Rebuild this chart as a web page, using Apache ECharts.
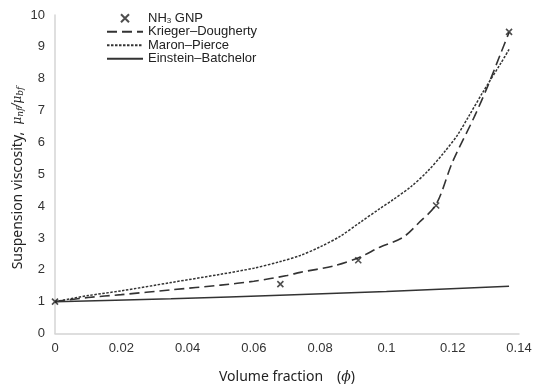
<!DOCTYPE html>
<html>
<head>
<meta charset="utf-8">
<script src="https://cdn.jsdelivr.net/npm/echarts@6/dist/echarts.min.js"></script>
<style>
  html, body { margin: 0; padding: 0; background: #fff; }
  #chart { width: 543px; height: 386px; }
</style>
</head>
<body>
<div id="chart"></div>
<script>
// Measured relative viscosity of NH3 GNP nanofluid
const gnpPhi = [0, 0.068, 0.0915, 0.115, 0.137];
const gnpVisc = [1, 1.55, 2.3, 4.02, 9.47];

// Krieger–Dougherty model curve
const kdPhi = [0, 0.01, 0.02, 0.035, 0.05, 0.06, 0.07, 0.074, 0.084, 0.0916, 0.098, 0.105, 0.110, 0.115, 0.120, 0.1265, 0.1305, 0.1345, 0.137];
const kdVisc = [1, 1.13, 1.22, 1.37, 1.52, 1.64, 1.82, 1.92, 2.12, 2.38, 2.71, 3.02, 3.5, 4.05, 5.4, 6.8, 7.75, 8.8, 9.45];

// Maron–Pierce model curve
const mpPhi = [0, 0.01, 0.02, 0.035, 0.05, 0.06, 0.068, 0.074, 0.08, 0.086, 0.0922, 0.098, 0.102, 0.1075, 0.1125, 0.1175, 0.1215, 0.125, 0.129, 0.1346, 0.137];
const mpVisc = [1, 1.19, 1.34, 1.6, 1.86, 2.05, 2.26, 2.45, 2.72, 3.05, 3.5, 3.92, 4.2, 4.62, 5.1, 5.7, 6.24, 6.85, 7.56, 8.5, 8.92];

// Einstein–Batchelor model curve
const ebPhi = [0, 0.035, 0.07, 0.1, 0.137];
const ebVisc = [1, 1.09, 1.21, 1.32, 1.48];

// Axis tick values
const xTicks = [0, 0.02, 0.04, 0.06, 0.08, 0.1, 0.12, 0.14];
const yTicks = [0, 1, 2, 3, 4, 5, 6, 7, 8, 9, 10];

const names = ['NH3 GNP', 'Krieger–Dougherty', 'Maron–Pierce', 'Einstein–Batchelor'];

const pair = (xs, ys) => xs.map((x, i) => [x, ys[i]]);

const crossPath = 'path://M0,0 L10,10 M10,0 L0,10';

const chart = echarts.init(document.getElementById('chart'));
const ink = '#333333';
const sans = 'Liberation Sans, Arial, sans-serif';
const uiSans = 'Noto Sans, Open Sans, sans-serif';

// line entries in the legend show only the line sample, no marker
const legendData = names.map((n, i) => i === 0 ? { name: n } : { name: n, itemStyle: { opacity: 0 } });

chart.setOption({
  animation: false,
  backgroundColor: '#ffffff',
  grid: { left: 55, right: 24, top: 15, bottom: 52.5, outerBoundsMode: 'none' },
  legend: {
    orient: 'vertical',
    left: 101,
    top: 5,
    padding: 5,
    itemWidth: 36,
    itemHeight: 8,
    itemGap: 0,
    data: legendData,
    textStyle: {
      fontFamily: sans,
      fontSize: 13,
      lineHeight: 13.5,
      color: '#222',
      rich: {
        sub: { fontSize: 8, lineHeight: 13.5, verticalAlign: 'bottom', padding: [7, 0, 0, 0], fontFamily: sans, color: '#222' }
      }
    },
    formatter: n => n === 'NH3 GNP' ? 'NH{sub|3} GNP' : n
  },
  xAxis: {
    type: 'value',
    min: xTicks[0],
    max: xTicks[xTicks.length - 1],
    interval: 0.02,
    name: 'Volume fraction\u2003({p|\u03d5})',
    nameLocation: 'middle',
    nameGap: 37,
    nameTextStyle: {
      fontFamily: uiSans, fontSize: 14, color: '#222',
      rich: { p: { fontFamily: 'DejaVu Serif, serif', fontStyle: 'italic', fontSize: 14, color: '#222' } }
    },
    axisLine: { lineStyle: { color: '#d4d4d4', width: 1.5 } },
    axisTick: { show: false },
    splitLine: { show: false },
    axisLabel: {
      margin: 8,
      fontFamily: sans,
      fontSize: 13,
      color: '#333',
      formatter: v => String(Math.round(v * 100) / 100)
    }
  },
  yAxis: {
    type: 'value',
    min: yTicks[0],
    max: yTicks[yTicks.length - 1],
    interval: 1,
    axisLine: { show: true, lineStyle: { color: '#d4d4d4', width: 1.5 } },
    axisTick: { show: false },
    splitLine: { show: false },
    axisLabel: {
      margin: 10,
      fontFamily: sans,
      fontSize: 13,
      color: '#333'
    }
  },
  graphic: [{
    type: 'text',
    x: 18,
    y: 178,
    rotation: Math.PI / 2,
    style: {
      text: 'Suspension viscosity,  {m|μ}{s|nf}{m|/μ}{s|bf}',
      align: 'center',
      verticalAlign: 'middle',
      fontFamily: uiSans,
      fontSize: 14,
      fill: '#222',
      rich: {
        m: { fontFamily: 'DejaVu Serif, serif', fontStyle: 'italic', fontSize: 12, fill: '#222' },
        s: { fontFamily: 'DejaVu Serif, serif', fontStyle: 'italic', fontSize: 9, fill: '#222', verticalAlign: 'bottom', padding: [5, 0, 0, 0] }
      }
    }
  }],
  series: [
    {
      name: names[1],
      type: 'line',
      data: pair(kdPhi, kdVisc),
      symbol: 'circle',
      showSymbol: false,
      smooth: 0.3,
      lineStyle: { color: ink, width: 1.6, type: [10, 5] },
      itemStyle: { color: ink },
      z: 2
    },
    {
      name: names[2],
      type: 'line',
      data: pair(mpPhi, mpVisc),
      symbol: 'circle',
      showSymbol: false,
      smooth: 0.3,
      lineStyle: { color: ink, width: 1.5, type: [2.5, 1.5] },
      itemStyle: { color: ink },
      z: 2
    },
    {
      name: names[3],
      type: 'line',
      data: pair(ebPhi, ebVisc),
      symbol: 'circle',
      showSymbol: false,
      smooth: 0.2,
      lineStyle: { color: ink, width: 1.5, type: 'solid' },
      itemStyle: { color: ink },
      z: 2
    },
    {
      name: names[0],
      type: 'scatter',
      data: pair(gnpPhi, gnpVisc),
      symbol: crossPath,
      symbolSize: 6,
      itemStyle: { color: 'none', borderColor: '#222', borderWidth: 1.6 },
      z: 3
    }
  ]
});
</script>
</body>
</html>
